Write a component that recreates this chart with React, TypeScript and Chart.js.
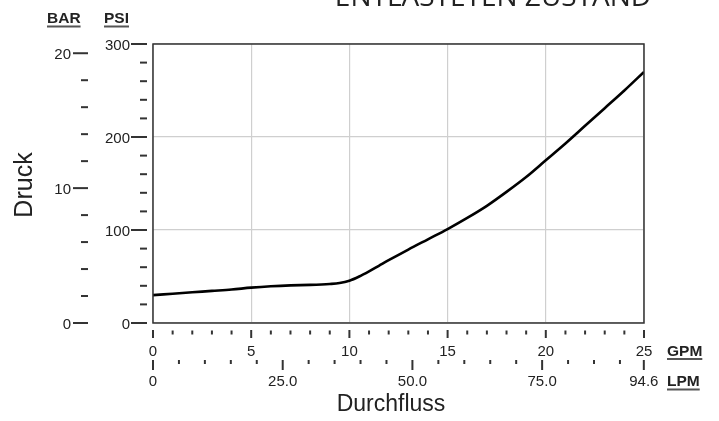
import React, { useEffect, useRef } from "react";
import { Chart, registerables } from "chart.js";

Chart.register(...registerables);

// ---- data ----
const flowGpm = [0, 1, 2, 3, 4, 5, 6, 7, 8, 9, 9.5, 10, 10.5, 11, 11.5, 12, 13, 14, 15, 16, 17, 18, 19, 20, 21, 22, 23, 24, 25];
const pressurePsi = [30, 31.5, 33, 34.5, 36, 38, 39.5, 40.5, 41, 42, 43, 45.5, 50, 55.5, 61.5, 67.5, 79, 90, 101, 113, 126, 141, 157, 175, 193, 212, 231, 250, 270];

const psiMajor = [0, 100, 200, 300];
const psiMinor = [20, 40, 60, 80, 120, 140, 160, 180, 220, 240, 260, 280];
const barMajor = [0, 10, 20];
const barMinor = [2, 4, 6, 8, 12, 14, 16, 18];
const gpmMajor = [0, 5, 10, 15, 20, 25];
const gpmMinor = [1, 2, 3, 4, 6, 7, 8, 9, 11, 12, 13, 14, 16, 17, 18, 19, 21, 22, 23, 24];
const lpmMajor = [0, 25, 50, 75, 94.6];
const lpmMajorLabels = ["0", "25.0", "50.0", "75.0", "94.6"];
const lpmMinor = [5, 10, 15, 20, 30, 35, 40, 45, 55, 60, 65, 70, 80, 85, 90];

const PSI_PER_BAR = 14.5038;
const LPM_PER_GPM = 3.78541;

const titleText = "ENTLASTETEN ZUSTAND";
const yAxisTitle = "Druck";
const xAxisTitle = "Durchfluss";

const SANS = "'Liberation Sans', Arial, sans-serif";

const decorPlugin = {
  id: "decor",
  afterDraw(chart: any) {
    const ctx = chart.ctx as CanvasRenderingContext2D;
    const a = chart.chartArea;
    const xs = chart.scales.x;
    const ys = chart.scales.y;
    ctx.save();

    // plot border
    ctx.strokeStyle = "#333";
    ctx.lineWidth = 1.5;
    ctx.strokeRect(a.left, a.top, a.right - a.left, a.bottom - a.top);

    ctx.fillStyle = "#222";
    ctx.strokeStyle = "#333";

    // title (partly cut off at top)
    ctx.font = "28px 'Open Sans', sans-serif";
    ctx.textAlign = "center";
    ctx.textBaseline = "alphabetic";
    ctx.fillText(titleText, 493, 6);

    // header labels BAR / PSI
    const underlined = (t: string, x: number, base: number, ul: number) => {
      ctx.font = `bold 15.5px ${SANS}`;
      ctx.textAlign = "left";
      ctx.fillStyle = "#222";
      ctx.fillText(t, x, base);
      const w = ctx.measureText(t).width;
      ctx.strokeStyle = "#555";
      ctx.lineWidth = 2;
      ctx.beginPath();
      ctx.moveTo(x, ul);
      ctx.lineTo(x + w, ul);
      ctx.stroke();
    };
    underlined("BAR", 47, 23, 26.5);
    underlined("PSI", 104, 23, 26.5);

    ctx.strokeStyle = "#333";
    ctx.lineWidth = 2;
    const hTick = (x1: number, x2: number, y: number) => {
      ctx.beginPath();
      ctx.moveTo(x1, y);
      ctx.lineTo(x2, y);
      ctx.stroke();
    };
    const vTick = (x: number, y1: number, y2: number) => {
      ctx.beginPath();
      ctx.moveTo(x, y1);
      ctx.lineTo(x, y2);
      ctx.stroke();
    };

    ctx.font = `15px ${SANS}`;
    ctx.fillStyle = "#222";
    // PSI axis
    ctx.textAlign = "right";
    psiMajor.forEach((v) => {
      const y = ys.getPixelForValue(v);
      hTick(131, 147, y);
      ctx.fillText(String(v), 130, y + 5.5);
    });
    psiMinor.forEach((v) => {
      const y = ys.getPixelForValue(v);
      hTick(140, 147, y);
    });
    // BAR axis
    barMajor.forEach((v) => {
      const y = ys.getPixelForValue(v * PSI_PER_BAR);
      hTick(73, 88, y);
      ctx.fillText(String(v), 71, y + 5.5);
    });
    barMinor.forEach((v) => {
      const y = ys.getPixelForValue(v * PSI_PER_BAR);
      hTick(81, 88, y);
    });

    // GPM axis
    ctx.textAlign = "center";
    gpmMajor.forEach((v) => {
      const x = xs.getPixelForValue(v);
      vTick(x, 330, 338);
      ctx.fillText(String(v), x, 355.5);
    });
    gpmMinor.forEach((v) => {
      const x = xs.getPixelForValue(v);
      vTick(x, 330.5, 334.5);
    });
    // LPM axis
    lpmMajor.forEach((v, i) => {
      const x = xs.getPixelForValue(v / LPM_PER_GPM);
      vTick(x, 360, 370);
      ctx.fillText(lpmMajorLabels[i], x, 386);
    });
    lpmMinor.forEach((v) => {
      const x = xs.getPixelForValue(v / LPM_PER_GPM);
      vTick(x, 360, 364);
    });

    underlined("GPM", 667, 355.5, 359);
    underlined("LPM", 667, 386, 389.5);

    // axis titles
    ctx.fillStyle = "#222";
    ctx.font = `23px ${SANS}`;
    ctx.textAlign = "center";
    ctx.fillText(xAxisTitle, 391, 411);
    ctx.font = `25px ${SANS}`;
    ctx.save();
    ctx.translate(31.5, 185);
    ctx.rotate(-Math.PI / 2);
    ctx.fillText(yAxisTitle, 0, 0);
    ctx.restore();

    ctx.restore();
  },
};

export default function App() {
  const ref = useRef<HTMLCanvasElement>(null);
  useEffect(() => {
    document.body.style.margin = "0";
    const canvas = ref.current!;
    const chart = new Chart(canvas, {
      type: "scatter",
      data: {
        datasets: [
          {
            data: flowGpm.map((x, i) => ({ x, y: pressurePsi[i] })),
            showLine: true,
            borderColor: "#000",
            borderWidth: 2.6,
            pointRadius: 0,
            cubicInterpolationMode: "monotone",
            fill: false,
          },
        ],
      },
      options: {
        animation: false,
        responsive: false,
        maintainAspectRatio: false,
        devicePixelRatio: 1,
        layout: { padding: { left: 153, top: 44, right: 75, bottom: 98 } },
        plugins: { legend: { display: false }, tooltip: { enabled: false }, title: { display: false } },
        scales: {
          x: {
            type: "linear",
            min: 0,
            max: 25,
            ticks: { stepSize: 5, display: false },
            grid: { color: "#cfcfcf", lineWidth: 1.2, drawTicks: false },
            border: { display: false },
            afterFit: (s: any) => { s.height = 0; },
          },
          y: {
            type: "linear",
            min: 0,
            max: 300,
            ticks: { stepSize: 100, display: false },
            grid: { color: "#cfcfcf", lineWidth: 1.2, drawTicks: false },
            border: { display: false },
            afterFit: (s: any) => { s.width = 0; },
          },
        },
      },
      plugins: [decorPlugin],
    } as any);
    return () => chart.destroy();
  }, []);
  return (
    <div style={{ width: 719, height: 421, background: "#fff" }}>
      <canvas ref={ref} width={719} height={421} style={{ display: "block" }} />
    </div>
  );
}
